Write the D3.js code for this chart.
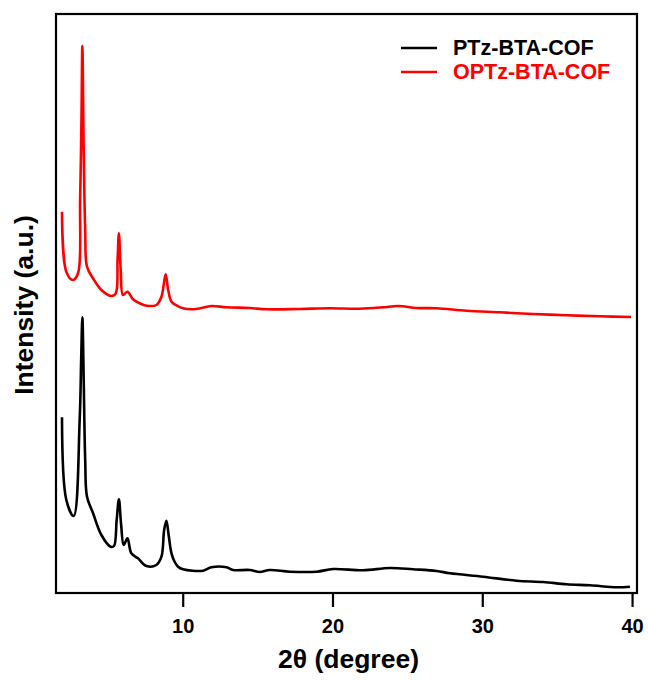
<!DOCTYPE html>
<html><head><meta charset="utf-8">
<script src="https://cdn.jsdelivr.net/npm/d3@7"></script>
<style>body{margin:0;background:#fff}svg{display:block}text{font-family:"Liberation Sans",Arial,sans-serif;font-weight:bold}</style>
</head><body>
<svg id="c" width="648" height="680"></svg>
<script>
// 2theta (degree) for PTz-BTA-COF
const ptzX = [1.94,2.23,2.72,3.12,3.22,3.30,3.39,3.49,3.61,4.01,4.57,5.19,5.41,5.59,5.74,5.89,6.06,6.31,6.57,7.01,7.58,8.24,8.58,8.76,8.91,9.06,9.25,9.47,9.69,10.02,11.36,11.92,12.92,13.36,14.48,15.14,15.81,17.15,18.93,20.04,22.04,23.83,25.38,26.95,27.84,30.06,32.29,34.07,35.63,37.19,38.97,39.86];
const ptzY = [175.7,93,77,173,233,275.7,213,133,96.3,80,58,46.3,47,73,93.7,68,48,54.7,39.7,34.7,27,28,36.3,63,72.3,58,39.7,31,26.3,23.7,22.3,25.7,25.7,23,23,21,23,21.3,21.3,24,22.7,25,23.7,22,19.7,16.3,12.3,11,8.7,7.7,5.7,6.3];
// 2theta (degree) for OPTz-BTA-COF (stacked above)
const optzX = [1.94,2.23,2.67,3.01,3.15,3.24,3.30,3.39,3.49,3.61,4.01,4.57,5.24,5.53,5.65,5.74,5.86,6.01,6.31,6.68,7.13,7.58,8.24,8.58,8.86,9.03,9.25,9.60,10.02,10.91,11.92,12.92,14.48,15.59,17.81,19.82,21.82,23.38,24.38,25.61,26.95,28.95,31.18,33.4,35.63,37.85,39.93];
const optzY = [381.3,321.3,313,319.7,393,473,547,443,363,326.3,314.7,303,297,299.7,333,359.7,323,298,301.3,293.7,289.7,287.3,288,296.3,318.7,303,291.3,287.5,284.7,284,287,285.7,285,283.7,284,284.7,284.3,285.7,287,285,284.7,282.3,280.7,279,277.7,276.7,276];
const xTicks = [10,20,30,40];
const seriesNames = ["PTz-BTA-COF","OPTz-BTA-COF"];
const seriesColors = ["#000000","#ff0000"];

const svg = d3.select("#c");
const L=56, R=637, T=14, B=593;
const x = d3.scaleLinear().domain([1.54,40.33]).range([L,R]);
const y = d3.scaleLinear().domain([0,579]).range([B,T]);

const series = [
  {name:seriesNames[0], color:seriesColors[0], pts: ptzX.map((v,i)=>[v,ptzY[i]])},
  {name:seriesNames[1], color:seriesColors[1], pts: optzX.map((v,i)=>[v,optzY[i]])}
];
const line = d3.line().x(d=>x(d[0])).y(d=>y(d[1])).curve(d3.curveCatmullRom.alpha(0.5));
series.forEach(s=>{
  svg.append("path").attr("d",line(s.pts)).attr("fill","none")
    .attr("stroke",s.color).attr("stroke-width",2.6).attr("stroke-linejoin","round");
});

// frame
svg.append("rect").attr("x",L).attr("y",T).attr("width",R-L).attr("height",B-T)
  .attr("fill","none").attr("stroke","#000").attr("stroke-width",2.2);

const ax = svg.append("g").attr("transform",`translate(0,${B})`)
  .call(d3.axisBottom(x).tickValues(xTicks).tickSize(14).tickPadding(12).tickFormat(d3.format("d")));
ax.select(".domain").remove();
ax.selectAll(".tick line").attr("stroke","#000").attr("stroke-width",2.2);
ax.selectAll(".tick text").attr("font-size",20).attr("fill","#000")
  .attr("font-family","Liberation Sans, Arial, sans-serif").attr("font-weight","bold");

svg.append("text").attr("x",(L+R)/2+2).attr("y",668).attr("text-anchor","middle")
  .attr("font-size",26.5).text("2θ (degree)");
svg.append("text").attr("transform","translate(33,305) rotate(-90)").attr("text-anchor","middle")
  .attr("font-size",26.5).text("Intensity (a.u.)");

// legend
series.forEach((s,i)=>{
  const yy = 48 + i*24;
  svg.append("line").attr("x1",401).attr("x2",437).attr("y1",yy).attr("y2",yy)
    .attr("stroke",s.color).attr("stroke-width",2.6);
  svg.append("text").attr("x",453).attr("y",yy+7).attr("font-size",21.5)
    .attr("fill",s.color).text(s.name);
});
</script>
</body></html>
